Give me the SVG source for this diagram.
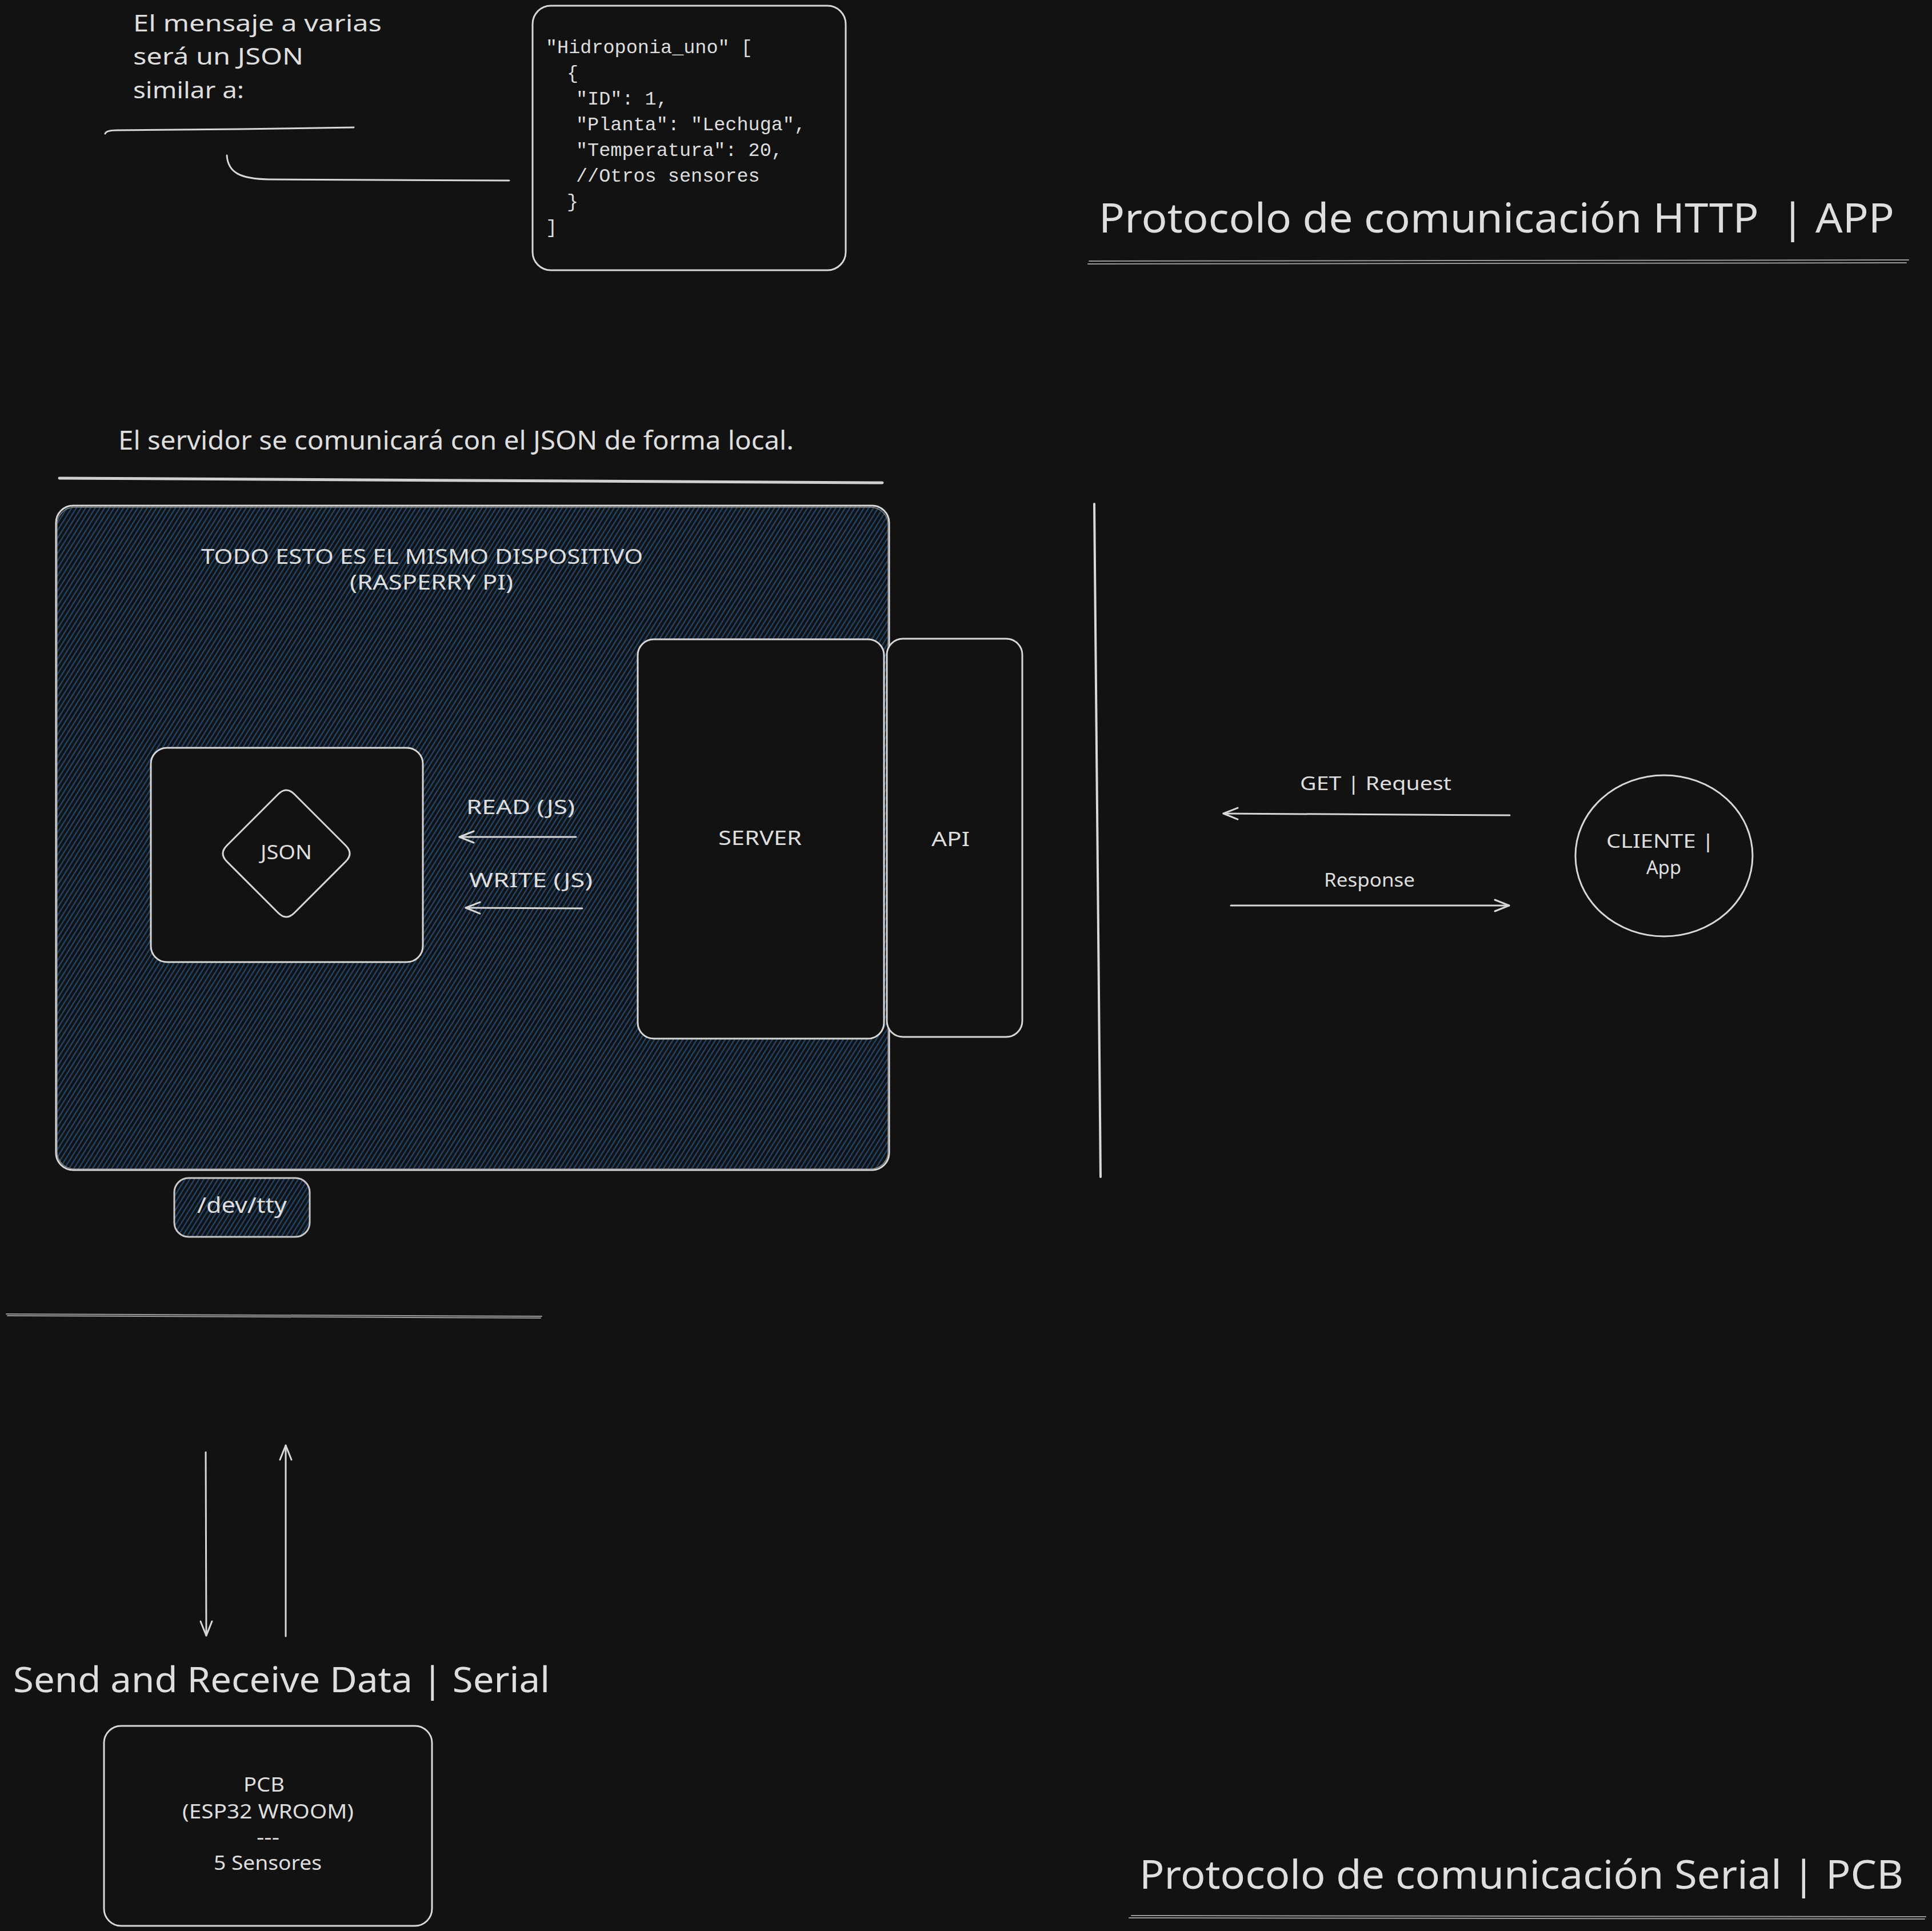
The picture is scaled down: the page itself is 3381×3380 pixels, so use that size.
<svg xmlns="http://www.w3.org/2000/svg" width="3381" height="3380" viewBox="0 0 3381 3380">
<defs>
<style>
.t{font-family:"Noto Sans","Liberation Sans",sans-serif;fill:#dedede;}
.m{font-family:"Liberation Mono","DejaVu Sans Mono",monospace;fill:#dedede;font-size:33.5px;}
.box{fill:#121212;stroke:#d8d8d8;stroke-width:3;}
.ln{fill:none;stroke:#d8d8d8;stroke-width:3;stroke-linecap:round;}
.ln2{fill:none;stroke:#9a9a9a;stroke-width:2;stroke-linecap:round;}
.ar{fill:none;stroke:#d8d8d8;stroke-width:3;stroke-linecap:round;marker-end:url(#ah);}
</style>
<pattern id="hach" patternUnits="userSpaceOnUse" width="7" height="7" patternTransform="rotate(-58)">
<rect width="7" height="7" fill="#121212"/>
<line x1="0" y1="3.5" x2="7" y2="3.5" stroke="#22507e" stroke-width="2"/>
</pattern>
<marker id="ah" markerUnits="userSpaceOnUse" markerWidth="32" markerHeight="26" viewBox="0 0 32 26" refX="29" refY="13" orient="auto">
<path d="M4,3 L29,13 L4,23" fill="none" stroke="#d8d8d8" stroke-width="3" stroke-linecap="round" stroke-linejoin="round"/>
</marker>
</defs>
<rect width="3381" height="3380" fill="#121212"/>

<g id="note-mensaje">
<text class="t" x="233" y="55" font-size="40" textLength="435" lengthAdjust="spacingAndGlyphs">El mensaje a varias</text>
<text class="t" x="233" y="113" font-size="40" textLength="298" lengthAdjust="spacingAndGlyphs">será un JSON</text>
<text class="t" x="233" y="172" font-size="40" textLength="194" lengthAdjust="spacingAndGlyphs">similar a:</text>
</g>

<g id="json-ejemplo">
<rect class="box" x="932" y="10" width="548" height="463" rx="32"/>
<text class="m" x="955" y="93">"Hidroponia_uno" [</text>
<text class="m" x="992" y="138">{</text>
<text class="m" x="1008" y="183">"ID": 1,</text>
<text class="m" x="1008" y="228">"Planta": "Lechuga",</text>
<text class="m" x="1008" y="273">"Temperatura": 20,</text>
<text class="m" x="1008" y="318">//Otros sensores</text>
<text class="m" x="992" y="363">}</text>
<text class="m" x="955" y="408">]</text>
</g>

<g id="titulo-http">
<text class="t" x="1923" y="407" font-size="72" style="white-space:pre" textLength="1392" lengthAdjust="spacingAndGlyphs">Protocolo de comunicación HTTP  | APP</text>
<line class="ln2" x1="1906" y1="457" x2="3340" y2="455"/>
<line class="ln2" x1="1904" y1="462" x2="3336" y2="460"/>
</g>

<g id="nota-servidor">
<text class="t" x="207" y="787" font-size="46" textLength="1182" lengthAdjust="spacingAndGlyphs">El servidor se comunicará con el JSON de forma local.</text>
<line x1="104" y1="837" x2="1544" y2="845" stroke="#d0d0d0" stroke-width="5" stroke-linecap="round"/>
</g>

<g id="dispositivo">
<rect x="98" y="885" width="1458" height="1163" rx="30" fill="url(#hach)" stroke="#d8d8d8" stroke-width="3"/>
<rect x="100" y="888" width="1454" height="1158" rx="30" fill="none" stroke="#8a8a8a" stroke-width="1.5"/>
<text class="t" x="352" y="987" font-size="36" textLength="773" lengthAdjust="spacingAndGlyphs">TODO ESTO ES EL MISMO DISPOSITIVO</text>
<text class="t" x="612" y="1032" font-size="36" textLength="286" lengthAdjust="spacingAndGlyphs">(RASPERRY PI)</text>
</g>

<g id="json-contenedor">
<rect class="box" x="264" y="1309" width="476" height="375" rx="28"/>
</g>

<g id="json-nodo">
<path class="box" d="M487,1390 Q501,1376 515,1390 L605,1480 Q619,1494 605,1508 L515,1598 Q501,1612 487,1598 L397,1508 Q383,1494 397,1480 Z"/>
<text class="t" x="456" y="1504" font-size="34" textLength="90" lengthAdjust="spacingAndGlyphs">JSON</text>
</g>

<g id="server">
<rect class="box" x="1116" y="1119" width="431" height="699" rx="28"/>
<text class="t" x="1257" y="1479" font-size="34" textLength="146" lengthAdjust="spacingAndGlyphs">SERVER</text>
</g>

<g id="api">
<rect class="box" x="1552" y="1118" width="237" height="697" rx="28"/>
<text class="t" x="1630" y="1481" font-size="34" textLength="67" lengthAdjust="spacingAndGlyphs">API</text>
</g>

<g id="dev-tty">
<rect x="305" y="2062" width="237" height="103" rx="25" fill="url(#hach)" stroke="#c8c8c8" stroke-width="3"/>
<text class="t" x="345" y="2123" font-size="38" textLength="157" lengthAdjust="spacingAndGlyphs">/dev/tty</text>
</g>

<g id="cliente">
<ellipse class="box" cx="2912" cy="1498" rx="155" ry="141"/>
<text class="t" x="2811" y="1484" font-size="32" textLength="189" lengthAdjust="spacingAndGlyphs">CLIENTE |</text>
<text class="t" x="2881" y="1530" font-size="32" textLength="61" lengthAdjust="spacingAndGlyphs">App</text>
</g>

<g id="titulo-send">
<text class="t" x="23" y="2962" font-size="62" textLength="939" lengthAdjust="spacingAndGlyphs">Send and Receive Data | Serial</text>
</g>

<g id="pcb">
<rect class="box" x="182" y="3021" width="574" height="350" rx="30"/>
<text class="t" x="426" y="3136" font-size="34" textLength="72" lengthAdjust="spacingAndGlyphs">PCB</text>
<text class="t" x="319" y="3183" font-size="34" textLength="300" lengthAdjust="spacingAndGlyphs">(ESP32 WROOM)</text>
<text class="t" x="449" y="3228" font-size="34" textLength="40" lengthAdjust="spacingAndGlyphs">---</text>
<text class="t" x="374" y="3273" font-size="34" textLength="189" lengthAdjust="spacingAndGlyphs">5 Sensores</text>
</g>

<g id="titulo-serial">
<text class="t" x="1994" y="3306" font-size="70" textLength="1337" lengthAdjust="spacingAndGlyphs">Protocolo de comunicación Serial | PCB</text>
<line class="ln2" x1="1980" y1="3353" x2="3370" y2="3355"/>
<line class="ln2" x1="1976" y1="3357" x2="3368" y2="3359"/>
</g>

<g id="lineas">
<path class="ln" d="M184,234 Q186,228 204,228 L420,226 L619,223"/>
<path class="ln" d="M397,272 C399,302 420,313 470,314 L891,316"/>
<line x1="1915" y1="882" x2="1926" y2="2060" stroke="#d8d8d8" stroke-width="4" stroke-linecap="round"/>
<line class="ln2" x1="11" y1="2300" x2="948" y2="2304"/>
<line class="ln2" x1="13" y1="2303" x2="946" y2="2307"/>
</g>

<g id="connectors">
<line class="ar" x1="1008" y1="1465" x2="804" y2="1465"/>
<text class="t" x="816" y="1425" font-size="34" textLength="190" lengthAdjust="spacingAndGlyphs">READ (JS)</text>
<line class="ar" x1="1019" y1="1590" x2="815" y2="1589"/>
<text class="t" x="821" y="1553" font-size="34" textLength="216" lengthAdjust="spacingAndGlyphs">WRITE (JS)</text>
<line class="ar" x1="2642" y1="1427" x2="2141" y2="1424"/>
<text class="t" x="2275" y="1383" font-size="32" textLength="265" lengthAdjust="spacingAndGlyphs">GET | Request</text>
<line class="ar" x1="2154" y1="1585" x2="2641" y2="1585"/>
<text class="t" x="2317" y="1552" font-size="32" textLength="159" lengthAdjust="spacingAndGlyphs">Response</text>
<line class="ar" x1="360" y1="2542" x2="361" y2="2863"/>
<line class="ar" x1="500" y1="2864" x2="500" y2="2530"/>
</g>
</svg>
